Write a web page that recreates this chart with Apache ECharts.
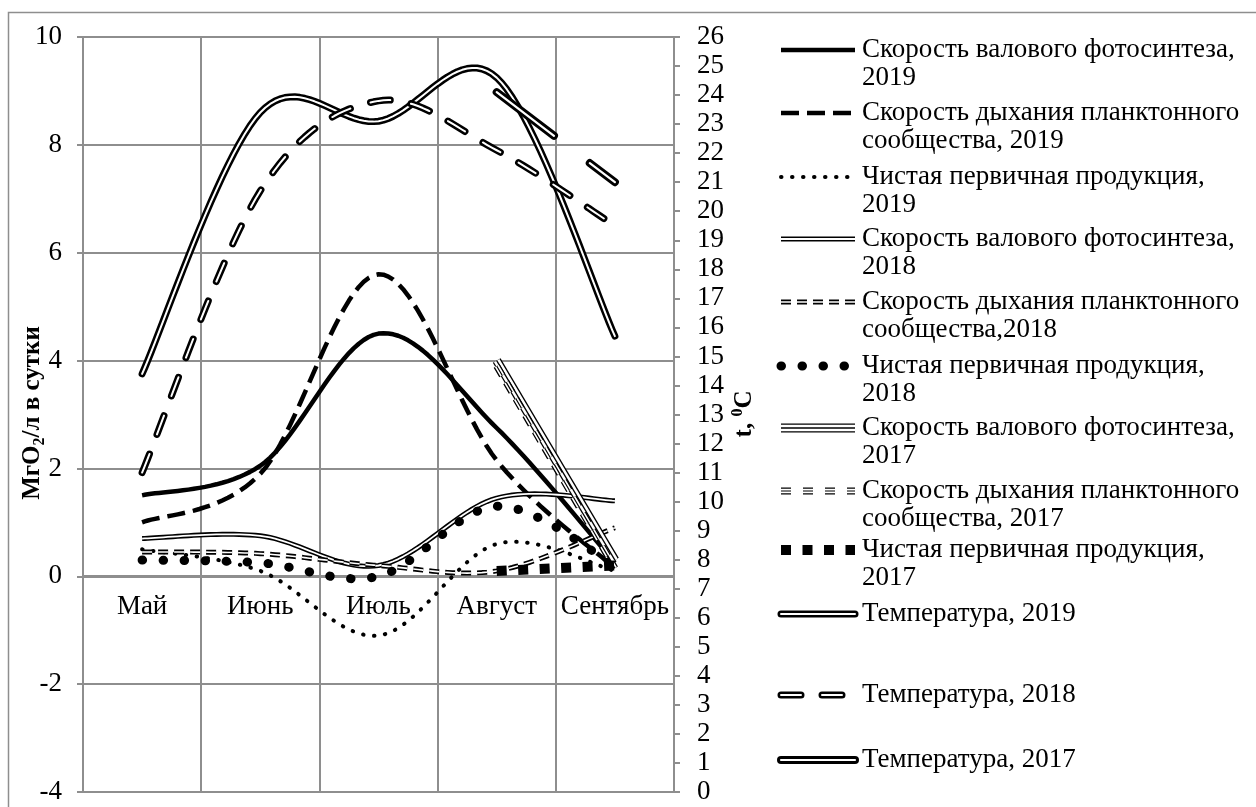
<!DOCTYPE html>
<html>
<head>
<meta charset="utf-8">
<script src="https://cdn.jsdelivr.net/npm/echarts@6/dist/echarts.min.js"></script>
<style>
  html, body { margin: 0; padding: 0; background: #fff; }
  #chart { width: 1256px; height: 807px; }
</style>
</head>
<body>
<div id="chart"></div>
<script>
// месяцы
const months = ['Май', 'Июнь', 'Июль', 'Август', 'Сентябрь'];
// мгО2/л в сутки (левая ось)
const gross2019 = [1.5, 2.05, 4.5, 2.75, 0.25];
const resp2019 = [1.0, 1.9, 5.6, 2.15, 0.15];
const net2019 = [0.5, 0.1, -1.1, 0.6, 0.1];
const gross2018 = [0.7, 0.75, 0.2, 1.45, 1.4];
const resp2018 = [0.45, 0.42, 0.2, 0.1, 0.9];
const net2018 = [0.3, 0.25, 0.0, 1.3, 0.2];
const gross2017 = [null, null, null, 4.0, 0.3];
const resp2017 = [null, null, null, 3.9, 0.15];
const net2017 = [null, null, null, 0.1, 0.2];
// температура (правая ось)
const temp2019 = [14.4, 23.4, 23.1, 24.6, 15.7];
const temp2018 = [11.0, 20.7, 23.8, 22.1, 19.5];
const temp2017 = [null, null, null, 24.1, 21.0];

const FONT = 'Liberation Serif';
const GRID_COLOR = '#8e8e8e';
const W = '#fff';

// описание линий: слои рисуются один поверх другого (двойные/тройные линии)
const lines = [
  { name: ['Скорость валового фотосинтеза,', '2019'], data: gross2019, axis: 0, y: 50,
    layers: [{ width: 4.5 }] },
  { name: ['Скорость дыхания планктонного', 'сообщества, 2019'], data: resp2019, axis: 0, y: 113,
    layers: [{ width: 4.5, type: [18, 8] }] },
  { name: ['Чистая первичная продукция,', '2019'], data: net2019, axis: 0, y: 177,
    layers: [{ width: 4, type: [0.5, 10.5], cap: 'round' }] },
  { name: ['Скорость валового фотосинтеза,', '2018'], data: gross2018, axis: 0, y: 239,
    layers: [{ width: 5 }, { width: 1.8, color: W }] },
  { name: ['Скорость дыхания планктонного', 'сообщества,2018'], data: resp2018, axis: 0, y: 302,
    layers: [{ width: 5, type: [10, 6] }, { width: 1.6, color: W, type: [10, 6] }] },
  { name: ['Чистая первичная продукция,', '2018'], data: net2018, axis: 0, y: 366,
    layers: [{ width: 9, type: [0.5, 20.5], cap: 'round' }] },
  { name: ['Скорость валового фотосинтеза,', '2017'], data: gross2017, axis: 0, y: 428,
    layers: [{ width: 9 }, { width: 6.4, color: W }, { width: 1.3 }] },
  { name: ['Скорость дыхания планктонного', 'сообщества, 2017'], data: resp2017, axis: 0, y: 491,
    legendDash: [10, 12],
    layers: [{ width: 7, type: [11, 8] }, { width: 4.4, color: W, type: [11, 8] }, { width: 1.2, type: [11, 8] }] },
  { name: ['Чистая первичная продукция,', '2017'], data: net2017, axis: 0, y: 550,
    layers: [{ width: 10, type: [10, 11.5] }] },
  { name: ['Температура, 2019'], data: temp2019, axis: 1, y: 614,
    layers: [{ width: 7, cap: 'round' }, { width: 2, color: W, cap: 'round' }] },
  { name: ['Температура, 2018'], data: temp2018, axis: 1, y: 695,
    layers: [{ width: 7, type: [20, 21], cap: 'round' }, { width: 2, color: W, type: [20, 21], cap: 'round' }] },
  { name: ['Температура, 2017'], data: temp2017, axis: 1, y: 760, legendSolid: true,
    layers: [{ width: 8, type: [72, 45], cap: 'round' }, { width: 2.2, color: W, type: [72, 45], cap: 'round' }] }
];

// сглаживание как в Excel (кривые Безье через точки, касательная = (P[i+1]-P[i-1])/6)
function smoothPoints(pts) {
  if (pts.length < 3) return pts;
  const out = [pts[0]];
  for (let i = 0; i < pts.length - 1; i++) {
    const p0 = pts[i - 1] || pts[i], p1 = pts[i], p2 = pts[i + 1], p3 = pts[i + 2] || pts[i + 1];
    const c1 = [p1[0] + (p2[0] - p0[0]) / 6, p1[1] + (p2[1] - p0[1]) / 6];
    const c2 = [p2[0] - (p3[0] - p1[0]) / 6, p2[1] - (p3[1] - p1[1]) / 6];
    for (let k = 1; k <= 24; k++) {
      const t = k / 24, u = 1 - t;
      out.push([
        u * u * u * p1[0] + 3 * u * u * t * c1[0] + 3 * u * t * t * c2[0] + t * t * t * p2[0],
        u * u * u * p1[1] + 3 * u * u * t * c1[1] + 3 * u * t * t * c2[1] + t * t * t * p2[1]
      ]);
    }
  }
  return out;
}

const series = [];
const graphic = [
  // рамка
  { type: 'rect', shape: { x: 8.5, y: 12.5, width: 1300, height: 900 },
    style: { fill: 'none', stroke: GRID_COLOR, lineWidth: 1.5 }, z: -10 },
  // подписи осей
  { type: 'text', x: 33, y: 413, rotation: Math.PI / 2,
    style: { text: '{a|МгО}{s|2}{a|/л в сутки}', align: 'center', verticalAlign: 'middle',
      rich: {
        a: { fontFamily: FONT, fontSize: 25, fontWeight: 'bold', fill: '#000', lineHeight: 30 },
        s: { fontFamily: FONT, fontSize: 16, fontWeight: 'bold', fill: '#000', lineHeight: 16, verticalAlign: 'bottom' }
      } } },
  { type: 'text', x: 745, y: 414, rotation: Math.PI / 2,
    style: { text: '{a|t, }{p|0}{a|C}', align: 'center', verticalAlign: 'middle',
      rich: {
        a: { fontFamily: FONT, fontSize: 25, fontWeight: 'bold', fill: '#000', lineHeight: 30 },
        p: { fontFamily: FONT, fontSize: 16, fontWeight: 'bold', fill: '#000', lineHeight: 16, verticalAlign: 'top' }
      } } }
];

lines.forEach(function (l) {
  const pairs = [];
  l.data.forEach(function (v, i) { if (v != null) pairs.push([i, v]); });
  l.layers.forEach(function (ly) {
    series.push({
      type: 'custom',
      name: l.name.join(' '),
      yAxisIndex: l.axis,
      data: pairs,
      clip: false,
      silent: true,
      renderItem: function (params, api) {
        if (params.dataIndex !== 0) return;
        const pts = pairs.map(function (p) { return api.coord(p); });
        return {
          type: 'polyline',
          shape: { points: smoothPoints(pts) },
          style: {
            fill: null,
            stroke: ly.color || '#000',
            lineWidth: ly.width,
            lineDash: ly.type || null,
            lineCap: ly.cap || 'butt',
            lineJoin: 'round'
          }
        };
      }
    });
    // значок легенды
    let dash = ly.type || null;
    if (l.legendSolid) dash = null;
    if (l.legendDash) dash = l.legendDash;
    graphic.push({
      type: 'line',
      shape: { x1: 781, y1: l.y, x2: 855, y2: l.y },
      style: {
        stroke: ly.color || '#000',
        lineWidth: ly.width,
        lineDash: dash,
        lineCap: ly.cap || 'butt'
      }
    });
  });
  l.name.forEach(function (t, i) {
    graphic.push({
      type: 'text', x: 862, y: l.y + i * 28,
      style: { text: t, fontFamily: FONT, fontSize: 27, fill: '#000', align: 'left', verticalAlign: 'middle' }
    });
  });
});

const chart = echarts.init(document.getElementById('chart'));
chart.setOption({
  animation: false,
  backgroundColor: '#fff',
  grid: { left: 83, right: 582, top: 37, bottom: 15, containLabel: false, outerBoundsMode: 'none' },
  xAxis: {
    type: 'category',
    data: months,
    boundaryGap: true,
    position: 'bottom',
    offset: -216, // ось проходит через 0 левой шкалы
    axisLine: { onZero: false, lineStyle: { color: GRID_COLOR, width: 2 } },
    axisTick: { show: false },
    axisLabel: { color: '#000', fontFamily: FONT, fontSize: 27, margin: 17, interval: 0 },
    splitLine: { show: true, lineStyle: { color: GRID_COLOR, width: 2 } }
  },
  yAxis: [
    {
      type: 'value', position: 'left', min: -4, max: 10, interval: 2,
      axisLine: { show: true, lineStyle: { color: GRID_COLOR, width: 2 } },
      axisTick: { show: true, length: 6, lineStyle: { color: GRID_COLOR, width: 2 } },
      axisLabel: { color: '#000', fontFamily: FONT, fontSize: 27, margin: 21 },
      splitLine: { show: true, lineStyle: { color: GRID_COLOR, width: 2 } }
    },
    {
      type: 'value', position: 'right', min: 0, max: 26, interval: 1,
      axisLine: { show: true, lineStyle: { color: GRID_COLOR, width: 2 } },
      axisTick: { show: true, length: 6, lineStyle: { color: GRID_COLOR, width: 2 } },
      axisLabel: { color: '#000', fontFamily: FONT, fontSize: 27, margin: 23 },
      splitLine: { show: false }
    }
  ],
  graphic: graphic,
  series: series
});
</script>
</body>
</html>
